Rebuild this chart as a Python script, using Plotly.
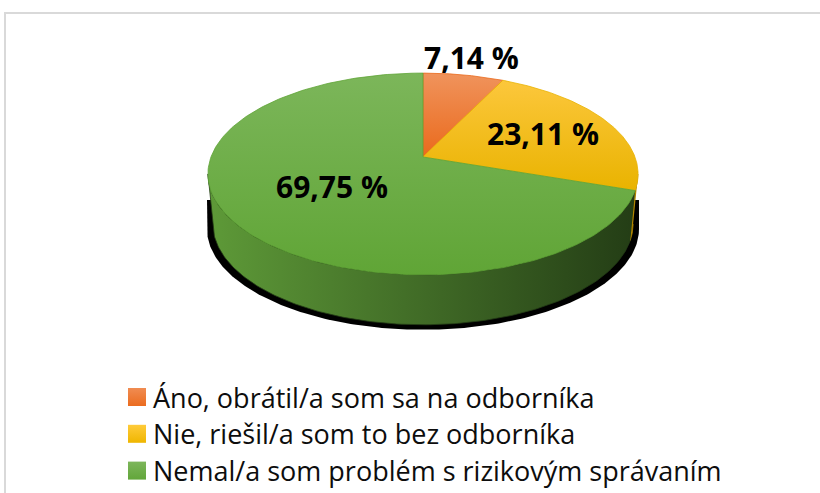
import numpy as np
import plotly.graph_objects as go

# ---- data ----
categories = [
    "Áno, obrátil/a som sa na odborníka",
    "Nie, riešil/a som to bez odborníka",
    "Nemal/a som problém s rizikovým správaním",
]
values = [7.14, 23.11, 69.75]

# ---- style ----
top_colors = [("#F0935C", "#EA6A1C"), ("#FCC73C", "#E9B300"), ("#7CB65A", "#60A536")]
side_colors = [("#C0561A", "#9A4010"), ("#D9A400", "#B08500"), ("#5E9A38", "#233C15")]
legend_colors = [("#F08C52", "#EB6C1F"), ("#FFCB3A", "#EFB600"), ("#7DB65B", "#62A63A")]
label_r = [1.25, 0.64, 0.50]

W, H = 820, 493
CX, CY = 423, 157          # pie apex (pixels)
A, B, E = 212, 98, 0.168   # ellipse radii and perspective factor
DEPTH, BOT_S = 50, 0.977   # side thickness and bottom horizontal shrink


def top_pt(phi, r=1.0):
    t = np.radians(phi)
    u, v = r * np.sin(t), -r * np.cos(t)
    w = 1 - E * v
    return CX + A * u / w, CY + B * v / w


def bot_pt(phi):
    t = np.radians(phi)
    u, v = np.sin(t), -np.cos(t)
    w = 1 - E * v
    return CX + BOT_S * A * u / w, CY + B * v / w + DEPTH


phi_r = np.degrees(np.arccos(-E))      # right-most visible angle
phi_l = 360 - phi_r

total = sum(values)
bounds = np.concatenate([[0], np.cumsum(values) / total * 360])

fig = go.Figure()

# shadow beneath the side
ph = np.linspace(phi_l, phi_r, 200)
bx, by = zip(*[bot_pt(p) for p in ph])
bx = np.array(bx); by = np.array(by)
sx = CX + (bx - CX) * 1.028
sy = by + 5
sx = np.concatenate([[sx[0]], sx, [sx[-1]]])
sy = np.concatenate([[200], sy, [200]])
fig.add_trace(go.Scatter(x=sx, y=sy, fill="toself", fillcolor="#000000",
                         mode="lines", line=dict(width=0, color="#000000"),
                         hoverinfo="skip", showlegend=False))

# side walls
for i in range(len(values)):
    a0, a1 = max(bounds[i], phi_r), min(bounds[i + 1], phi_l)
    if a1 <= a0:
        continue
    ph = np.linspace(a0, a1, 160)
    tx, ty = zip(*[top_pt(p) for p in ph])
    bx, by = zip(*[bot_pt(p) for p in ph[::-1]])
    xs = list(tx) + list(bx)
    ys = list(ty) + list(by)
    c0, c1 = side_colors[i]
    fig.add_trace(go.Scatter(
        x=xs, y=ys, fill="toself", mode="lines",
        line=dict(width=0.8, color=c1),
        fillgradient=dict(type="horizontal", colorscale=[[0, c0], [1, c1]],
                          start=CX - A * 1.02, stop=CX + A * 1.02),
        hoverinfo="skip", showlegend=False))

# top faces
for i in range(len(values)):
    ph = np.linspace(bounds[i], bounds[i + 1], 200)
    pts = [top_pt(p) for p in ph]
    xs = [CX] + [p[0] for p in pts] + [CX]
    ys = [CY] + [p[1] for p in pts] + [CY]
    c0, c1 = top_colors[i]
    fig.add_trace(go.Scatter(
        x=xs, y=ys, fill="toself", mode="lines",
        line=dict(width=0.8, color=c1),
        fillgradient=dict(type="vertical", colorscale=[[0, c0], [1, c1]],
                          start=min(ys), stop=max(ys)),
        hoverinfo="skip", showlegend=False))

# data labels
for i, v in enumerate(values):
    mid = (bounds[i] + bounds[i + 1]) / 2
    lx, ly = top_pt(mid, label_r[i])
    fig.add_annotation(x=lx, y=ly, text=f"{v:.2f}".replace(".", ",") + " %",
                       showarrow=False, xanchor="center", yanchor="middle",
                       font=dict(family="Open Sans", size=30, color="#000000", weight="bold"))

# legend
LEG_X, LEG_Y0, LEG_DY = 137, 397, 36.8
for i, cat in enumerate(categories):
    y = LEG_Y0 + i * LEG_DY
    c0, c1 = legend_colors[i]
    fig.add_trace(go.Scatter(
        x=[LEG_X], y=[y], mode="markers",
        marker=dict(symbol="square", size=18, color=c0,
                    gradient=dict(type="vertical", color=c1), line=dict(width=0)),
        hoverinfo="skip", showlegend=False))
    fig.add_annotation(x=LEG_X + 14, y=y, text=cat, showarrow=False,
                       xanchor="left", yanchor="middle",
                       font=dict(family="Open Sans", size=27, color="#0D0D0D"))

# chart area border
fig.add_shape(type="rect", x0=5, y0=13, x1=W + 10, y1=H + 10,
              line=dict(color="#D9D9D9", width=2), fillcolor="rgba(0,0,0,0)", layer="below")

fig.update_layout(
    width=W, height=H, autosize=False,
    margin=dict(l=0, r=0, t=0, b=0),
    paper_bgcolor="#FFFFFF", plot_bgcolor="#FFFFFF",
    xaxis=dict(range=[0, W], visible=False, fixedrange=True),
    yaxis=dict(range=[H, 0], visible=False, fixedrange=True),
    showlegend=False,
)

fig.write_html("out.html", config={"displayModeBar": False, "staticPlot": True},
               post_script="document.body.style.margin='0';")
